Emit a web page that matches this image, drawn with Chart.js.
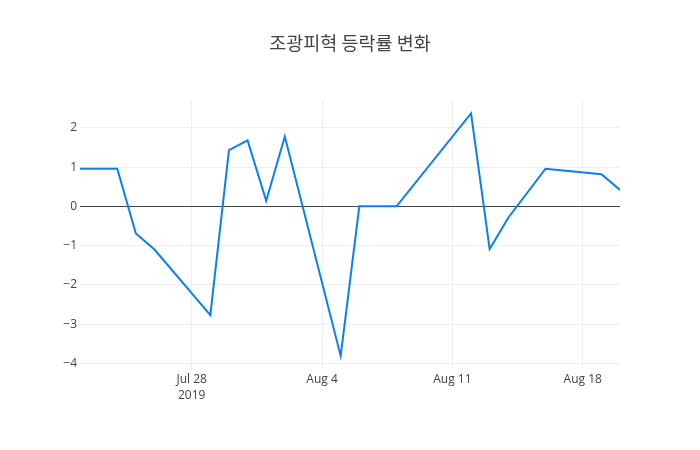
<!DOCTYPE html>
<html>
<head>
<meta charset="utf-8">
<script src="https://cdn.jsdelivr.net/npm/chart.js@4/dist/chart.umd.min.js"></script>
<style>
  html, body { margin: 0; padding: 0; background: #fff; }
  #wrap { width: 700px; height: 450px; }
</style>
</head>
<body>
<div id="wrap"><canvas id="chart" width="700" height="450"></canvas></div>
<script>
// days counted from Jul 22 2019
const titleText = '조광피혁 등락률 변화';
const dayLabels = ['Jul 22','Jul 24','Jul 25','Jul 26','Jul 29','Jul 30','Jul 31','Aug 1','Aug 2',
                   'Aug 5','Aug 6','Aug 8','Aug 12','Aug 13','Aug 14','Aug 16','Aug 19','Aug 20'];
const dayIndex = [0, 2, 3, 4, 7, 8, 9, 10, 11, 14, 15, 17, 21, 22, 23, 25, 28, 29];
const changeRate = [0.96, 0.96, -0.69, -1.10, -2.77, 1.43, 1.68, 0.14, 1.78,
                    -3.81, 0.00, 0.00, 2.37, -1.09, -0.29, 0.96, 0.82, 0.42];
const xTickValues = [6, 13, 20, 27];
const xTickLabels = [['Jul 28', '2019'], 'Aug 4', 'Aug 11', 'Aug 18'];
const yTickValues = [-4, -3, -2, -1, 0, 1, 2];

const FONT = '"Open Sans", "Noto Sans", sans-serif';

const titlePlugin = {
  id: 'plotTitle',
  afterDraw(chart) {
    const ctx = chart.ctx;
    ctx.save();
    ctx.font = '18.5px "Noto Sans CJK KR", "Open Sans", sans-serif';
    ctx.fillStyle = '#444';
    ctx.textAlign = 'center';
    ctx.textBaseline = 'middle';
    ctx.fillText(titleText, 350, 43);
    ctx.restore();
  }
};

new Chart(document.getElementById('chart'), {
  type: 'line',
  data: {
    datasets: [{
      label: titleText,
      data: dayIndex.map((d, i) => ({ x: d, y: changeRate[i] })),
      borderColor: 'rgb(11,127,240)',
      borderWidth: 2,
      pointRadius: 0,
      tension: 0,
      fill: false
    }]
  },
  options: {
    responsive: false,
    animation: false,
    layout: { padding: { left: 0, right: 80, top: 100, bottom: 0 } },
    plugins: {
      legend: { display: false },
      tooltip: { enabled: false },
      title: { display: false }
    },
    scales: {
      x: {
        type: 'linear',
        min: 0,
        max: 29,
        afterBuildTicks: s => { s.ticks = xTickValues.map(v => ({ value: v })); },
        afterFit: s => { s.height = 80; },
        ticks: {
          autoSkip: false,
          maxRotation: 0,
          padding: 1,
          color: '#444',
          font: { family: FONT, size: 12, lineHeight: 1.35 },
          callback: (v) => xTickLabels[xTickValues.indexOf(v)]
        },
        grid: { color: '#eee', drawTicks: false },
        border: { display: false }
      },
      y: {
        min: -4.17,
        max: 2.71,
        afterBuildTicks: s => { s.ticks = yTickValues.map(v => ({ value: v })); },
        afterFit: s => { s.width = 80; },
        ticks: {
          padding: 3,
          color: '#444',
          font: { family: FONT, size: 12 },
          callback: v => (v < 0 ? '\u2212' + Math.abs(v) : String(v))
        },
        grid: {
          drawTicks: false,
          color: c => (c.tick && c.tick.value === 0 ? '#444' : '#eee'),
          lineWidth: 1
        },
        border: { display: false }
      }
    }
  },
  plugins: [titlePlugin]
});
</script>
</body>
</html>
